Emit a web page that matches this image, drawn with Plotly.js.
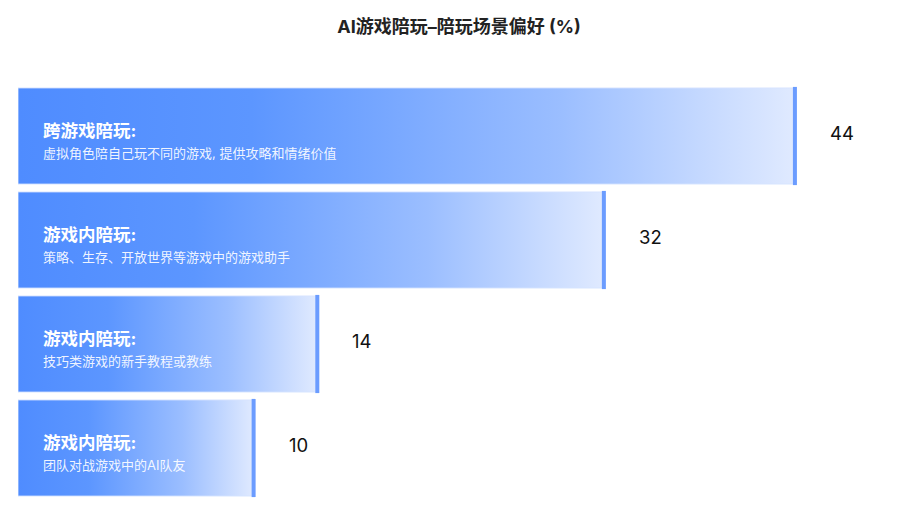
<!DOCTYPE html>
<html>
<head>
<meta charset="utf-8">
<script src="https://cdn.plot.ly/plotly-3.0.1.min.js"></script>
<style>
  html, body { margin: 0; padding: 0; background: #ffffff; }
  #chart { width: 902px; height: 511px; }
</style>
</head>
<body>
<div id="chart"></div>
<script>
// data
var categories = ['跨游戏陪玩:', '游戏内陪玩:', '游戏内陪玩:', '游戏内陪玩:'];
var descriptions = [
    '虚拟角色陪自己玩不同的游戏, 提供攻略和情绪价值',
    '策略、生存、开放世界等游戏中的游戏助手',
    '技巧类游戏的新手教程或教练',
    '团队对战游戏中的AI队友'
];
var values = [44, 32, 14, 10];

var axisMin = -4.8;   // bars start at the left edge of the plot
var axisMax = 50.6;
var half = 0.462;     // half bar thickness in category units

var fontFamily = 'Inter, "Noto Sans CJK SC", "Noto Sans", sans-serif';
var gradient = [
    [0, '#4f8cff'],
    [0.3, '#5c96ff'],
    [0.7, '#9bbeff'],
    [1, '#e0eaff']
];

var traces = [];
var annotations = [];

for (var i = 0; i < values.length; i++) {
    // gradient bar
    traces.push({
        type: 'scatter',
        mode: 'lines',
        x: [axisMin, values[i], values[i], axisMin, axisMin],
        y: [i - half, i - half, i + half, i + half, i - half],
        fill: 'toself',
        fillgradient: { type: 'horizontal', colorscale: gradient },
        line: { color: 'rgba(215,228,255,0.9)', width: 1 },
        hoverinfo: 'skip',
        showlegend: false
    });
    // darker cap at the end of the bar
    traces.push({
        type: 'scatter',
        mode: 'lines',
        x: [values[i], values[i]],
        y: [i - half - 0.01, i + half + 0.01],
        line: { color: '#6b9cff', width: 4 },
        hoverinfo: 'skip',
        showlegend: false
    });

    annotations.push({
        xref: 'paper', yref: 'y',
        x: 0, y: i,
        xanchor: 'left', yanchor: 'middle',
        xshift: 23, yshift: 6,
        text: '<b>' + categories[i] + '</b>',
        showarrow: false,
        font: { family: fontFamily, size: 17.5, color: '#ffffff' }
    });
    annotations.push({
        xref: 'paper', yref: 'y',
        x: 0, y: i,
        xanchor: 'left', yanchor: 'middle',
        xshift: 23, yshift: -17,
        text: descriptions[i],
        showarrow: false,
        font: { family: fontFamily, size: 13, color: 'rgba(255,255,255,0.92)' }
    });
    annotations.push({
        xref: 'x', yref: 'y',
        x: values[i], y: i,
        xanchor: 'left', yanchor: 'middle',
        xshift: 33, yshift: 3,
        text: String(values[i]),
        showarrow: false,
        font: { family: fontFamily, size: 18.5, color: '#111111' }
    });
}

var layout = {
    width: 902,
    height: 511,
    margin: { l: 18, r: 2, t: 84, b: 11 },
    paper_bgcolor: '#ffffff',
    plot_bgcolor: '#ffffff',
    title: {
        text: '<b>AI游戏陪玩–陪玩场景偏好 (%)</b>',
        x: 0.5,
        xref: 'paper',
        y: 0.96,
        yref: 'container',
        font: { family: fontFamily, size: 18, color: '#222222' }
    },
    xaxis: {
        range: [axisMin, axisMax],
        visible: false,
        showgrid: false,
        zeroline: false,
        fixedrange: true
    },
    yaxis: {
        range: [3.5, -0.5],
        visible: false,
        showgrid: false,
        zeroline: false,
        fixedrange: true
    },
    annotations: annotations,
    showlegend: false
};

Plotly.newPlot('chart', traces, layout, { displayModeBar: false, staticPlot: true });
</script>
</body>
</html>
